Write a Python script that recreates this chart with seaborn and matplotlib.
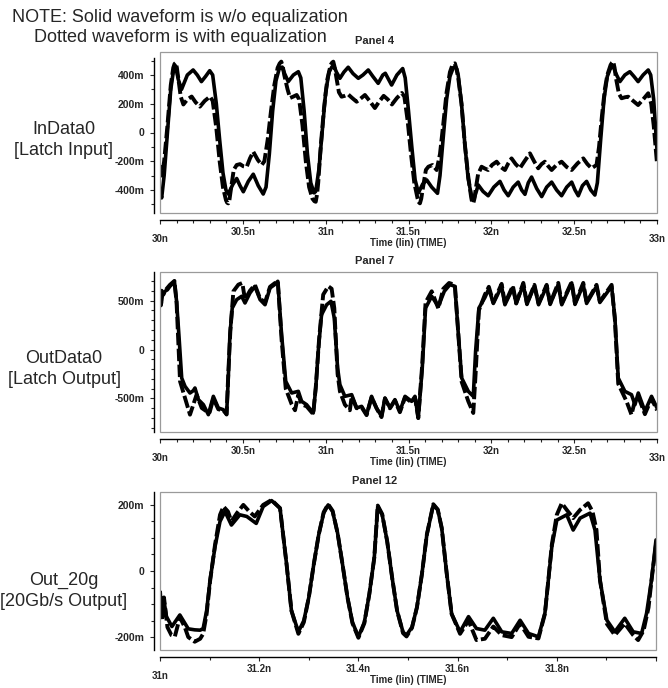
import numpy as np
import pandas as pd
import matplotlib
matplotlib.use("Agg")
import matplotlib.pyplot as plt
from matplotlib.patches import Rectangle
import seaborn as sns

# ---- waveform samples (time in ns, voltage in mV) ----

# Panel 4: InData0 [Latch Input]
in_solid_t = [30.000, 30.010, 30.025, 30.045, 30.065, 30.080, 30.088, 30.095, 30.110, 30.130, 30.165, 30.200,
              30.225, 30.250, 30.275, 30.300, 30.318, 30.340, 30.360, 30.380, 30.398, 30.412, 30.440, 30.463,
              30.483, 30.503, 30.533, 30.563, 30.593, 30.623, 30.640, 30.660, 30.680, 30.700, 30.720, 30.730,
              30.738, 30.752, 30.774, 30.805, 30.835, 30.850, 30.870, 30.890, 30.910, 30.930, 30.940, 30.960,
              30.980, 31.000, 31.020, 31.037, 31.045, 31.056, 31.065, 31.086, 31.110, 31.136, 31.165, 31.197,
              31.225, 31.257, 31.285, 31.317, 31.345, 31.360, 31.398, 31.430, 31.465, 31.480, 31.500, 31.520,
              31.540, 31.560, 31.585, 31.610, 31.640, 31.675, 31.690, 31.710, 31.730, 31.750, 31.770, 31.776,
              31.783, 31.792, 31.800, 31.820, 31.840, 31.860, 31.880, 31.895, 31.921, 31.950, 31.981, 32.015,
              32.052, 32.077, 32.102, 32.132, 32.162, 32.183, 32.203, 32.223, 32.243, 32.274, 32.304, 32.334,
              32.364, 32.394, 32.424, 32.455, 32.485, 32.505, 32.525, 32.550, 32.575, 32.600, 32.625, 32.640,
              32.660, 32.680, 32.700, 32.720, 32.728, 32.736, 32.746, 32.756, 32.776, 32.806, 32.836, 32.861,
              32.886, 32.916, 32.947, 32.962, 32.980, 33.000]
in_solid_v = [-400, -455, -300, 0, 300, 420, 450, 460, 370, 300, 400, 435,
              400, 354, 390, 430, 400, 200, -50, -280, -400, -428, -360, -320,
              -370, -412, -340, -290, -370, -428, -380, -150, 150, 360, 445, 452,
              455, 410, 354, 400, 423, 380, 150, -150, -350, -420, -410, -250,
              20, 280, 420, 455, 465, 445, 420, 377, 420, 454, 410, 377,
              400, 435, 390, 342, 400, 412, 330, 400, 445, 380, 150, -100,
              -330, -420, -360, -330, -380, -423, -300, -30, 230, 390, 450, 455,
              458, 440, 400, 200, -80, -320, -440, -465, -365, -410, -440, -380,
              -340, -400, -440, -380, -345, -400, -430, -350, -310, -390, -446, -380,
              -345, -400, -440, -380, -345, -400, -440, -370, -340, -400, -435, -350,
              -50, 230, 390, 450, 455, 458, 430, 400, 354, 400, 423, 390,
              354, 400, 435, 400, 230, -122]

in_dash_t = [30.000, 30.012, 30.025, 30.045, 30.065, 30.080, 30.088, 30.095, 30.102, 30.110, 30.125, 30.141,
             30.165, 30.191, 30.215, 30.241, 30.270, 30.302, 30.318, 30.340, 30.360, 30.380, 30.398, 30.405,
             30.412, 30.419, 30.425, 30.445, 30.463, 30.483, 30.503, 30.523, 30.543, 30.563, 30.590, 30.614,
             30.630, 30.650, 30.670, 30.690, 30.710, 30.722, 30.732, 30.741, 30.750, 30.770, 30.785, 30.805,
             30.825, 30.840, 30.860, 30.880, 30.900, 30.920, 30.932, 30.940, 30.948, 30.955, 30.970, 30.990,
             31.010, 31.030, 31.038, 31.046, 31.055, 31.065, 31.080, 31.096, 31.115, 31.136, 31.160, 31.187,
             31.210, 31.237, 31.265, 31.297, 31.320, 31.350, 31.375, 31.400, 31.430, 31.460, 31.475, 31.495,
             31.515, 31.535, 31.555, 31.562, 31.569, 31.577, 31.585, 31.605, 31.620, 31.645, 31.670, 31.690,
             31.710, 31.730, 31.750, 31.765, 31.772, 31.780, 31.790, 31.800, 31.820, 31.840, 31.860, 31.878,
             31.884, 31.891, 31.898, 31.905, 31.920, 31.941, 31.960, 31.981, 32.005, 32.032, 32.057, 32.082,
             32.102, 32.122, 32.147, 32.172, 32.200, 32.233, 32.258, 32.283, 32.303, 32.323, 32.344, 32.364,
             32.394, 32.424, 32.455, 32.485, 32.520, 32.555, 32.580, 32.605, 32.635, 32.650, 32.668, 32.685,
             32.700, 32.720, 32.728, 32.736, 32.744, 32.752, 32.770, 32.786, 32.806, 32.826, 32.856, 32.886,
             32.916, 32.947, 32.965, 32.980, 33.000]
in_dash_v = [-230, -300, -200, 50, 330, 450, 478, 485, 450, 380, 250, 195,
             230, 250, 210, 180, 220, 250, 220, 30, -200, -380, -470, -488,
             -493, -470, -420, -260, -226, -220, -235, -240, -180, -134, -190, -226,
             -200, -50, 150, 330, 450, 480, 493, 460, 400, 300, 240, 250,
             261, 230, 50, -200, -380, -460, -478, -482, -430, -350, -100, 170,
             370, 470, 485, 493, 450, 380, 280, 249, 255, 265, 240, 214,
             235, 261, 220, 170, 210, 255, 230, 195, 240, 275, 250, 80,
             -150, -350, -460, -485, -493, -460, -400, -260, -238, -226, -261, -150,
             60, 280, 420, 470, 478, 481, 440, 380, 200, -80, -300, -450,
             -485, -493, -460, -400, -290, -238, -250, -261, -225, -203, -240, -261,
             -215, -180, -220, -249, -200, -145, -200, -249, -220, -203, -235, -261,
             -225, -203, -240, -261, -215, -180, -220, -249, -226, -100, 120, 300,
             400, 470, 485, 493, 450, 380, 270, 238, 245, 249, 220, 191,
             230, 273, 200, 50, -215]

# Panel 7: OutData0 [Latch Output]
out_solid_t = [30.000, 30.004, 30.008, 30.015, 30.030, 30.045, 30.060, 30.075, 30.087, 30.100, 30.114, 30.131,
               30.151, 30.181, 30.201, 30.211, 30.232, 30.262, 30.292, 30.322, 30.352, 30.382, 30.402, 30.412,
               30.422, 30.436, 30.463, 30.493, 30.513, 30.543, 30.573, 30.604, 30.634, 30.664, 30.690, 30.711,
               30.734, 30.759, 30.795, 30.835, 30.855, 30.885, 30.925, 30.940, 30.955, 30.975, 31.006, 31.032,
               31.052, 31.072, 31.086, 31.116, 31.157, 31.187, 31.217, 31.247, 31.277, 31.307, 31.337, 31.358,
               31.388, 31.418, 31.448, 31.479, 31.519, 31.539, 31.559, 31.583, 31.603, 31.640, 31.680, 31.716,
               31.750, 31.780, 31.801, 31.821, 31.861, 31.891, 31.905, 31.925, 31.961, 31.985, 32.012, 32.062,
               32.082, 32.130, 32.150, 32.193, 32.215, 32.260, 32.285, 32.334, 32.355, 32.404, 32.425, 32.485,
               32.505, 32.555, 32.575, 32.635, 32.655, 32.726, 32.746, 32.766, 32.806, 32.846, 32.867, 32.887,
               32.927, 32.967, 33.000]
out_solid_v = [480, 560, 470, 560, 594, 610, 645, 670, 696, 492, 151, -291,
               -376, -444, -420, -393, -512, -563, -665, -478, -597, -614, -665, -300,
               151, 423, 509, 543, 475, 577, 645, 509, 457, 628, 660, 696,
               151, -325, -444, -427, -529, -563, -648, -400, -19, 355, 457, 492,
               321, -189, -359, -478, -461, -597, -580, -665, -478, -597, -682, -495,
               -597, -512, -631, -478, -529, -478, -699, -189, 423, 543, 440, 594,
               662, 645, 151, -291, -427, -478, -19, 423, 530, 620, 470, 645,
               457, 630, 470, 662, 460, 650, 457, 645, 460, 662, 457, 680,
               460, 662, 470, 645, 480, 645, 321, -291, -427, -461, -563, -444,
               -631, -478, -597]

out_dash_t = [30.000, 30.005, 30.010, 30.020, 30.040, 30.060, 30.087, 30.100, 30.121, 30.151, 30.181, 30.201,
              30.221, 30.252, 30.280, 30.300, 30.322, 30.352, 30.382, 30.402, 30.412, 30.425, 30.443, 30.473,
              30.497, 30.513, 30.543, 30.573, 30.604, 30.634, 30.664, 30.711, 30.734, 30.759, 30.795, 30.815,
              30.835, 30.855, 30.885, 30.925, 30.942, 30.960, 30.985, 31.016, 31.036, 31.052, 31.072, 31.086,
              31.116, 31.146, 31.157, 31.187, 31.217, 31.247, 31.277, 31.307, 31.337, 31.358, 31.388, 31.418,
              31.448, 31.479, 31.519, 31.539, 31.559, 31.583, 31.603, 31.640, 31.680, 31.710, 31.745, 31.780,
              31.801, 31.821, 31.861, 31.891, 31.905, 31.925, 31.961, 31.985, 32.012, 32.062, 32.082, 32.130,
              32.150, 32.193, 32.215, 32.260, 32.285, 32.334, 32.355, 32.404, 32.425, 32.485, 32.505, 32.555,
              32.575, 32.635, 32.655, 32.726, 32.746, 32.766, 32.816, 32.846, 32.867, 32.887, 32.927, 32.967,
              33.000]
out_dash_v = [520, 450, 600, 560, 620, 660, 700, 480, -325, -495, -665, -563,
              -461, -597, -630, -640, -500, -610, -620, -660, -250, 200, 594, 662,
              679, 509, 600, 660, 520, 480, 640, 700, 100, -400, -560, -620,
              -460, -560, -580, -660, -350, 100, 560, 645, 620, 423, -250, -427,
              -563, -620, -480, -600, -590, -670, -490, -600, -690, -500, -600, -520,
              -640, -490, -540, -490, -700, -150, 480, 594, 420, 620, 679, 660,
              151, -330, -529, -648, -250, 400, 560, 640, 480, 670, 470, 650,
              470, 680, 470, 660, 470, 660, 470, 680, 470, 690, 470, 680,
              480, 660, 490, 660, 300, -350, -529, -665, -520, -480, -660, -500,
              -620]

# Panel 12: Out_20g [20Gb/s Output]
g20_solid_t = [31.000, 31.004, 31.008, 31.013, 31.024, 31.040, 31.057, 31.070, 31.081, 31.087, 31.094, 31.101,
               31.111, 31.121, 31.131, 31.144, 31.161, 31.175, 31.194, 31.208, 31.225, 31.242, 31.255, 31.265,
               31.279, 31.290, 31.300, 31.310, 31.320, 31.330, 31.339, 31.348, 31.358, 31.368, 31.378, 31.388,
               31.400, 31.412, 31.422, 31.432, 31.439, 31.448, 31.458, 31.468, 31.478, 31.490, 31.497, 31.508,
               31.518, 31.528, 31.538, 31.551, 31.560, 31.568, 31.578, 31.588, 31.605, 31.622, 31.638, 31.655,
               31.672, 31.689, 31.709, 31.726, 31.743, 31.763, 31.776, 31.783, 31.790, 31.800, 31.820, 31.833,
               31.847, 31.867, 31.877, 31.887, 31.901, 31.917, 31.937, 31.954, 31.971, 31.981, 31.991, 32.000]
g20_solid_v = [-70, -120, -90, -138, -168, -133, -175, -178, -179, -174, -120, -27,
               74, 150, 180, 139, 170, 165, 144, 195, 213, 190, 23, -120,
               -184, -150, -80, 20, 110, 175, 200, 180, 115, 20, -80, -155,
               -199, -155, -70, 40, 195, 170, 90, -20, -120, -185, -194, -170,
               -110, -10, 110, 200, 185, 130, -7, -130, -184, -138, -174, -179,
               -143, -184, -189, -149, -189, -199, -128, -27, 74, 154, 170, 124,
               160, 175, 124, -27, -149, -184, -143, -184, -189, -128, -27, 94]

g20_dash_t = [31.000, 31.004, 31.008, 31.015, 31.023, 31.030, 31.040, 31.050, 31.057, 31.070, 31.081, 31.087,
              31.094, 31.101, 31.111, 31.121, 31.128, 31.137, 31.144, 31.155, 31.168, 31.180, 31.191, 31.208,
              31.225, 31.242, 31.255, 31.265, 31.279, 31.290, 31.300, 31.310, 31.320, 31.330, 31.339, 31.348,
              31.358, 31.368, 31.378, 31.388, 31.400, 31.412, 31.422, 31.432, 31.439, 31.448, 31.458, 31.468,
              31.478, 31.490, 31.497, 31.508, 31.518, 31.528, 31.538, 31.551, 31.560, 31.568, 31.578, 31.588,
              31.605, 31.622, 31.638, 31.655, 31.672, 31.689, 31.709, 31.726, 31.743, 31.763, 31.776, 31.783,
              31.790, 31.800, 31.810, 31.820, 31.833, 31.847, 31.863, 31.872, 31.880, 31.887, 31.901, 31.917,
              31.937, 31.954, 31.964, 31.975, 31.985, 31.991, 32.000]
g20_dash_v = [-60, -150, -80, -170, -194, -198, -140, -170, -200, -214, -205, -190,
              -130, -30, 80, 170, 195, 180, 150, 175, 200, 180, 165, 200,
              215, 190, 23, -120, -190, -155, -80, 20, 110, 178, 202, 182,
              115, 20, -80, -158, -202, -158, -70, 40, 198, 172, 90, -20,
              -120, -188, -198, -172, -110, -10, 110, 202, 186, 130, -7, -130,
              -190, -150, -209, -205, -168, -194, -200, -159, -199, -204, -130, -27,
              80, 170, 205, 185, 160, 185, 205, 180, 124, -27, -160, -194,
              -159, -194, -209, -180, -110, -27, 80]

note_lines = ["NOTE: Solid waveform is w/o equalization", "Dotted waveform is with equalization"]
panel_titles = ["Panel 4", "Panel 7", "Panel 12"]
side_labels = ["InData0\n[Latch Input]", "OutData0\n[Latch Output]", "Out_20g\n[20Gb/s Output]"]
x_label = "Time (lin) (TIME)"

# ---- figure ----
sns.set_style("ticks")
plt.rcParams['font.family'] = ['Liberation Sans', 'DejaVu Sans']

W, H = 668, 688
fig = plt.figure(figsize=(W / 100, H / 100), dpi=100)


def fx(px):
    return px / W


def fy(py):
    return 1 - py / H


panels = [
    dict(box=(160, 52, 657, 213), ts=in_solid_t, vs=in_solid_v, td=in_dash_t, vd=in_dash_v,
         xlim=(30, 33), ylim=(-560, 560), ybound=(-560, 520),
         yticks=[-400, -200, 0, 200, 400], ylabels=["-400m", "-200m", "0", "200m", "400m"],
         yminor=[-500, -300, -100, 100, 300, 500],
         xticks=[30, 30.5, 31, 31.5, 32, 32.5, 33], xlabels=["", "30.5n", "31n", "31.5n", "32n", "32.5n", ""],
         xminor=[30 + 0.1 * i for i in range(31)], ends=[(30, "30n"), (33, "33n")], label_y=140),
    dict(box=(160, 272, 657, 432), ts=out_solid_t, vs=out_solid_v, td=out_dash_t, vd=out_dash_v,
         xlim=(30, 33), ylim=(-842, 791), ybound=None,
         yticks=[-500, 0, 500], ylabels=["-500m", "0", "500m"],
         yminor=[-800, -700, -600, -400, -300, -200, -100, 100, 200, 300, 400, 600, 700],
         xticks=[30, 30.5, 31, 31.5, 32, 32.5, 33], xlabels=["", "30.5n", "31n", "31.5n", "32n", "32.5n", ""],
         xminor=[30 + 0.1 * i for i in range(31)], ends=[(30, "30n"), (33, "33n")], label_y=369),
    dict(box=(160, 492, 656, 650), ts=g20_solid_t, vs=g20_solid_v, td=g20_dash_t, vd=g20_dash_v,
         xlim=(31, 32), ylim=(-239, 239), ybound=None,
         yticks=[-200, 0, 200], ylabels=["-200m", "0", "200m"],
         yminor=[-150, -100, -50, 50, 100, 150],
         xticks=[31, 31.2, 31.4, 31.6, 31.8, 32], xlabels=["", "31.2n", "31.4n", "31.6n", "31.8n", ""],
         xminor=[31 + 0.1 * i for i in range(11)], ends=[(31, "31n")], label_y=591),
]

for i, p in enumerate(panels):
    x0, y0, x1, y1 = p['box']
    ax = fig.add_axes([fx(x0), fy(y1), (x1 - x0) / W, (y1 - y0) / H])

    sns.lineplot(x=p['ts'], y=p['vs'], ax=ax, color='black', linewidth=2.6,
                 estimator=None, sort=False, legend=False)
    sns.lineplot(x=p['td'], y=p['vd'], ax=ax, color='black', linewidth=2.8,
                 estimator=None, sort=False, legend=False)
    ax.lines[-1].set_dashes((3.2, 0.9))

    ax.set_xlim(*p['xlim'])
    ax.set_ylim(*p['ylim'])

    # grey frame round the plotting area
    ax.add_patch(Rectangle((0, 0), 1, 1, transform=ax.transAxes, fill=False,
                           edgecolor='#9a9a9a', linewidth=0.9, clip_on=False, zorder=5))
    ax.spines['top'].set_visible(False)
    ax.spines['right'].set_visible(False)
    ax.spines['left'].set_position(('outward', 4.3))
    ax.spines['bottom'].set_position(('outward', 5.0))
    for s in ['left', 'bottom']:
        ax.spines[s].set_linewidth(1.0)
        ax.spines[s].set_color('black')
    if p['ybound'] is not None:
        ax.spines['left'].set_bounds(*p['ybound'])

    ax.set_yticks(p['yticks'])
    ax.set_yticklabels(p['ylabels'])
    ax.set_yticks(p['yminor'], minor=True)
    ax.set_xticks(p['xticks'])
    ax.set_xticklabels(p['xlabels'])
    ax.set_xticks(p['xminor'], minor=True)
    ax.tick_params(axis='y', which='major', length=3.2, width=0.8, pad=3.6,
                   labelsize=7.5, direction='out')
    ax.tick_params(axis='y', which='minor', length=2.2, width=0.8, direction='out')
    ax.tick_params(axis='x', which='major', length=3.2, width=0.8, pad=2.0,
                   labelsize=7, direction='out')
    ax.tick_params(axis='x', which='minor', length=2.2, width=0.8, direction='out')
    for lab in ax.get_xticklabels() + ax.get_yticklabels():
        lab.set_fontweight('bold')
    ax.set_xlabel("")
    ax.set_ylabel("")

    for xv, txt in p['ends']:
        ax.annotate(txt, xy=(xv, 0), xycoords=('data', 'axes fraction'),
                    xytext=(0, -18.5), textcoords='offset points',
                    ha='center', va='center', fontsize=7, fontweight='bold')

    ax.annotate(x_label, xy=(0.5, 0), xycoords='axes fraction',
                xytext=(0, -21.5), textcoords='offset points',
                ha='center', va='center', fontsize=7, fontweight='bold')

    fig.text(fx(375), fy(y0 - 11), panel_titles[i], ha='center', va='center',
             fontsize=8, fontweight='bold')
    fig.text(fx(64), fy(p['label_y']), side_labels[i], ha='center', va='center',
             fontsize=13, linespacing=1.35)

fig.text(fx(180), fy(18), note_lines[0], ha='center', va='center', fontsize=13)
fig.text(fx(180), fy(38), note_lines[1], ha='center', va='center', fontsize=13)

fig.savefig("out.png", dpi=100)
